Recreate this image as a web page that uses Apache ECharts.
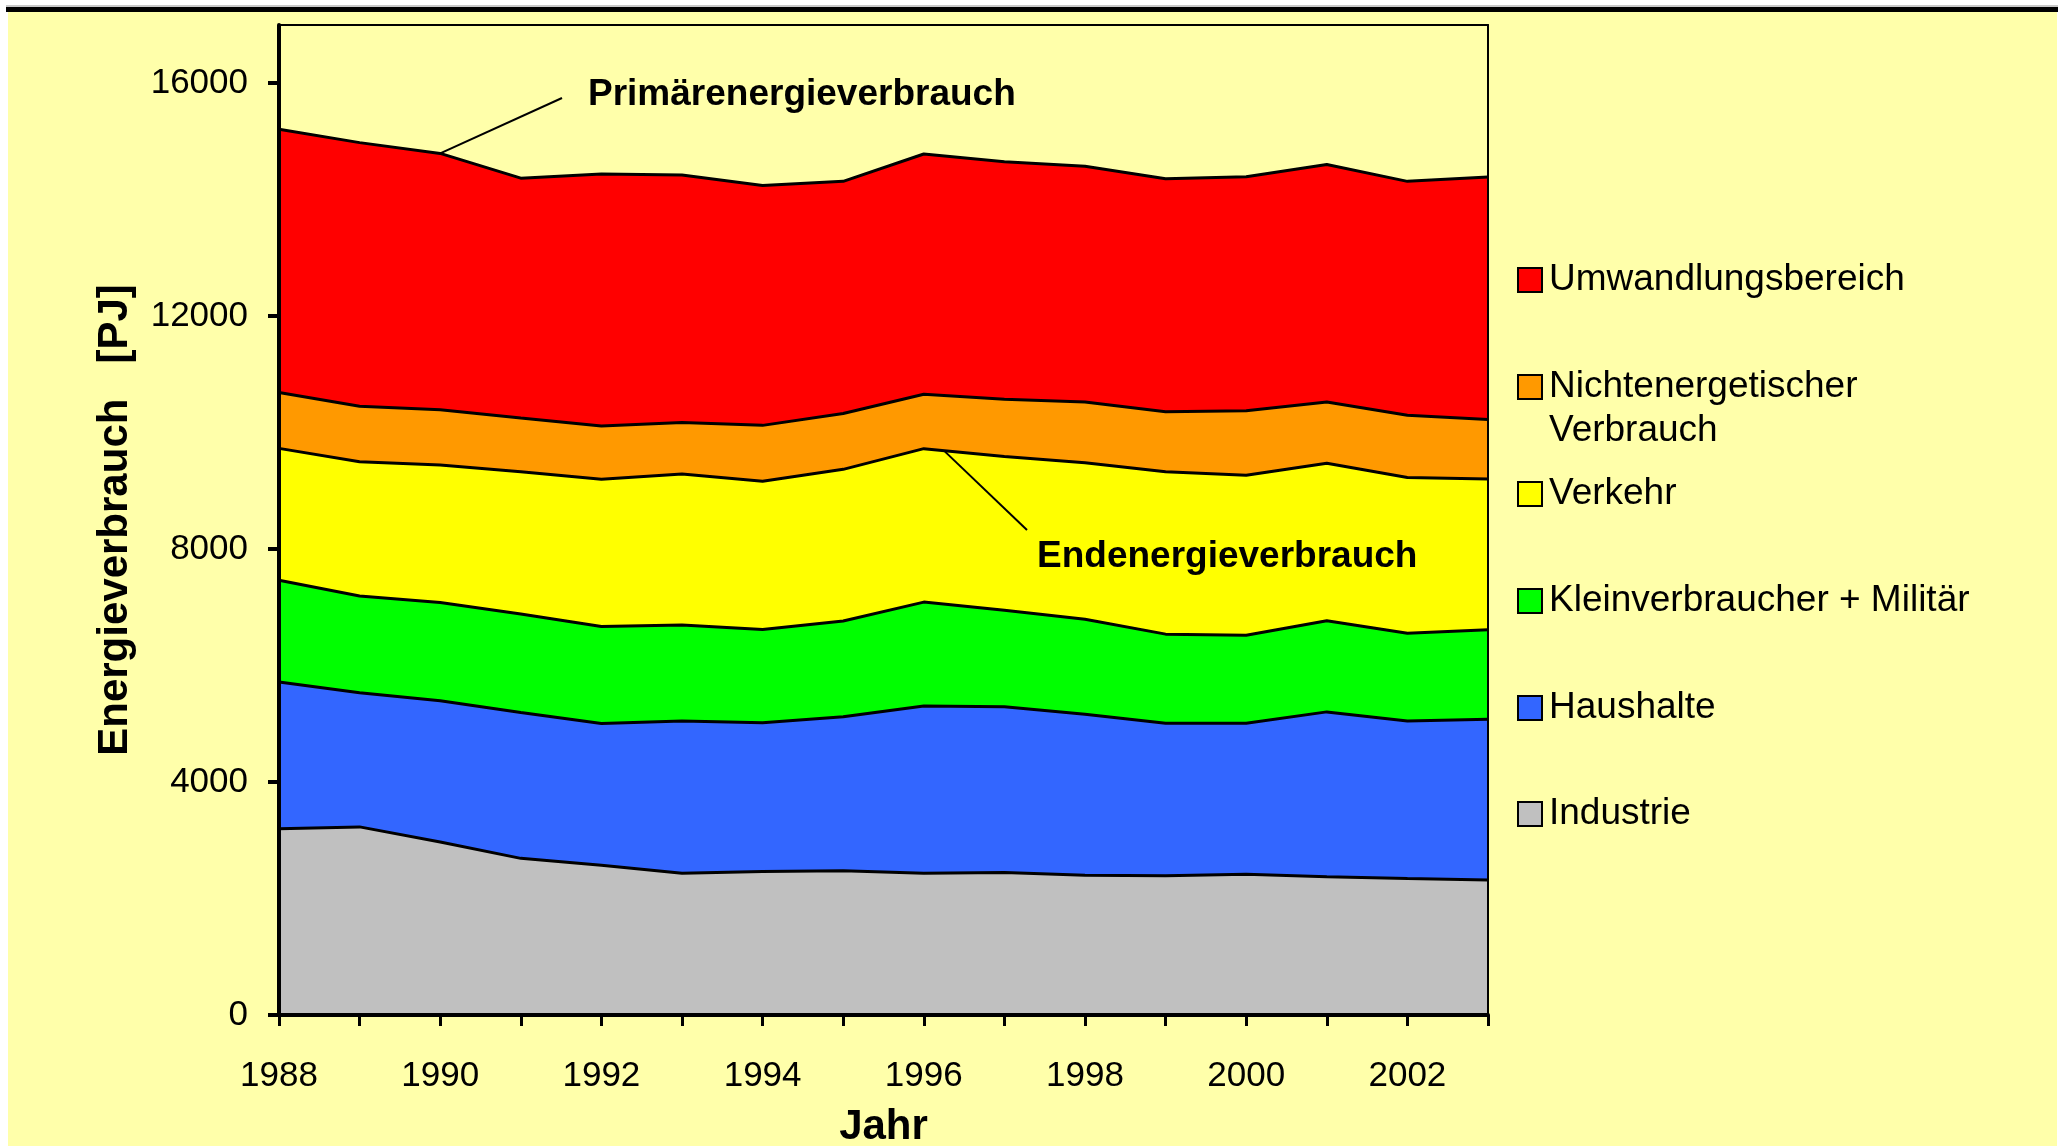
<!DOCTYPE html>
<html>
<head>
<meta charset="utf-8">
<title>Energieverbrauch</title>
<script src="https://cdn.jsdelivr.net/npm/echarts@6.0.0/dist/echarts.min.js"></script>
<style>
  html, body { margin: 0; padding: 0; background: #ffffff; }
  #main { width: 2063px; height: 1146px; }
</style>
</head>
<body>
<div id="main"></div>
<script>
// Daten (PJ)
var years = ["1988", "1989", "1990", "1991", "1992", "1993", "1994", "1995",
             "1996", "1997", "1998", "1999", "2000", "2001", "2002", "2003"];
var industrie        = [3200, 3230, 2970, 2690, 2570, 2435, 2465, 2475, 2435, 2445, 2400, 2390, 2415, 2375, 2345, 2320];
var haushalte        = [2520, 2305, 2425, 2505, 2435, 2615, 2555, 2645, 2870, 2850, 2765, 2620, 2595, 2830, 2705, 2760];
var kleinverbraucher = [1745, 1660, 1690, 1690, 1665, 1645, 1600, 1645, 1785, 1655, 1630, 1530, 1510, 1565, 1505, 1535];
var verkehr          = [2265, 2305, 2360, 2445, 2530, 2595, 2545, 2605, 2635, 2640, 2690, 2790, 2750, 2705, 2675, 2590];
var nichtenergetisch = [960, 955, 950, 920, 915, 885, 960, 960, 935, 985, 1040, 1030, 1105, 1050, 1070, 1020];
var umwandlung       = [4520, 4525, 4400, 4120, 4325, 4250, 4120, 3985, 4125, 4075, 4050, 4000, 4020, 4080, 4015, 4165];
var yTicks = [0, 4000, 8000, 12000, 16000];

var font = "Liberation Sans, Arial, sans-serif";
var bg = "#FFFFAA";

var myChart = echarts.init(document.getElementById("main"));

function areaSeries(name, data, color, z) {
  return {
    name: name,
    type: "line",
    stack: "total",
    data: data,
    z: z,
    symbol: "none",
    lineStyle: { color: "#000", width: 3 },
    itemStyle: { color: color },
    areaStyle: { color: color, opacity: 1 },
    emphasis: { disabled: true }
  };
}

// eine Legende pro Eintrag, damit die Abstände wie im Original sind
function legendItem(name, color, centerY, twoLines) {
  var l = {
    data: [name],
    left: 1517,
    top: centerY - 22,
    padding: 0,
    itemGap: 0,
    itemWidth: 24,
    itemHeight: 24,
    icon: "rect",
    itemStyle: { color: color, borderColor: "#000", borderWidth: 2 },
    textStyle: { color: "#000", fontSize: 37, fontFamily: font, lineHeight: 44, padding: [0, 0, 0, 2] }
  };
  if (twoLines) {
    // Kästchen oben, zweite Zeile hängt darunter
    l.itemHeight = 68;
    l.icon = "path://M0,0L10,0L10,10L0,10Z M0,28.33";
    l.formatter = function () { return "Nichtenergetischer\nVerbrauch"; };
  }
  return l;
}

var baseGraphic = [
  { type: "rect", silent: true, z: -10, shape: { x: 8, y: 12, width: 2049, height: 1134 }, style: { fill: bg } },
  { type: "rect", silent: true, z: -9, shape: { x: 6, y: 5, width: 2052, height: 2 }, style: { fill: "#c8c8c8" } },
  { type: "rect", silent: true, z: -9, shape: { x: 6, y: 7, width: 2052, height: 5 }, style: { fill: "#000" } },
  { type: "text", silent: true, z: 50, x: 588, y: 95,
    style: { text: "Primärenergieverbrauch", fill: "#000", fontSize: 37, fontWeight: "bold", fontFamily: font, verticalAlign: "middle" } },
  { type: "text", silent: true, z: 50, x: 1037, y: 557,
    style: { text: "Endenergieverbrauch", fill: "#000", fontSize: 37, fontWeight: "bold", fontFamily: font, verticalAlign: "middle" } }
];

var option = {
  backgroundColor: "#ffffff",
  animation: false,
  grid: { left: 279, top: 25, width: 1209, height: 990, show: false, outerBoundsMode: "none", containLabel: false },
  legend: [
    legendItem("Umwandlungsbereich", "#FF0000", 280, false),
    legendItem("Nichtenergetischer Verbrauch", "#FF9900", 387, true),
    legendItem("Verkehr", "#FFFF00", 494, false),
    legendItem("Kleinverbraucher + Militär", "#00FF00", 601, false),
    legendItem("Haushalte", "#3366FF", 708, false),
    legendItem("Industrie", "#C0C0C0", 814, false)
  ],
  xAxis: [
    {
      type: "category",
      data: years,
      boundaryGap: false,
      z: 20,
      axisLine: { lineStyle: { color: "#000", width: 4 } },
      axisTick: { show: true, interval: 0, length: 11, lineStyle: { color: "#000", width: 3 } },
      axisLabel: { interval: 1, color: "#000", fontSize: 35, fontFamily: font, margin: 44 },
      name: "Jahr",
      nameLocation: "middle",
      nameGap: 91,
      nameTextStyle: { color: "#000", fontSize: 42, fontWeight: "bold", fontFamily: font }
    },
    {
      // obere Rahmenlinie
      type: "category",
      data: years,
      boundaryGap: false,
      position: "top",
      z: 20,
      axisLine: { onZero: false, lineStyle: { color: "#000", width: 2 } },
      axisTick: { show: false },
      axisLabel: { show: false }
    }
  ],
  yAxis: [
    {
      type: "value",
      min: 0,
      max: 17000,
      z: 20,
      axisLine: { show: true, lineStyle: { color: "#000", width: 4 } },
      axisTick: { show: true, length: 11, customValues: yTicks, lineStyle: { color: "#000", width: 4 } },
      axisLabel: {
        customValues: yTicks,
        color: "#000",
        fontSize: 35,
        fontFamily: font,
        margin: 31,
        formatter: function (v) { return String(v); }
      },
      splitLine: { show: false },
      name: "Energieverbrauch   [PJ]",
      nameLocation: "middle",
      nameGap: 143,
      nameTextStyle: { color: "#000", fontSize: 42, fontWeight: "bold", fontFamily: font }
    },
    {
      // rechte Rahmenlinie
      type: "value",
      min: 0,
      max: 17000,
      position: "right",
      z: 20,
      axisLine: { show: true, onZero: false, lineStyle: { color: "#000", width: 2 } },
      axisTick: { show: false },
      axisLabel: { show: false },
      splitLine: { show: false }
    }
  ],
  graphic: baseGraphic,
  series: [
    areaSeries("Industrie", industrie, "#C0C0C0", 8),
    areaSeries("Haushalte", haushalte, "#3366FF", 7),
    areaSeries("Kleinverbraucher + Militär", kleinverbraucher, "#00FF00", 6),
    areaSeries("Verkehr", verkehr, "#FFFF00", 5),
    areaSeries("Nichtenergetischer Verbrauch", nichtenergetisch, "#FF9900", 4),
    areaSeries("Umwandlungsbereich", umwandlung, "#FF0000", 3)
  ]
};

myChart.setOption(option);

// Hinweislinien an den Summenkurven
function sumAt(i, upto) {
  var all = [industrie, haushalte, kleinverbraucher, verkehr, nichtenergetisch, umwandlung];
  var s = 0;
  for (var k = 0; k < upto; k++) s += all[k][i];
  return s;
}
var pPrim = myChart.convertToPixel({ gridIndex: 0 }, [2, sumAt(2, 6)]);
var pA = myChart.convertToPixel({ gridIndex: 0 }, [8, sumAt(8, 4)]);
var pB = myChart.convertToPixel({ gridIndex: 0 }, [9, sumAt(9, 4)]);
var t = 0.25;
var pEnd = [pA[0] + (pB[0] - pA[0]) * t, pA[1] + (pB[1] - pA[1]) * t];

myChart.setOption({
  graphic: baseGraphic.concat([
    { type: "line", silent: true, z: 50, shape: { x1: pPrim[0], y1: pPrim[1], x2: 562, y2: 98 }, style: { stroke: "#000", lineWidth: 2 } },
    { type: "line", silent: true, z: 50, shape: { x1: pEnd[0], y1: pEnd[1], x2: 1027, y2: 530 }, style: { stroke: "#000", lineWidth: 2 } }
  ])
});
</script>
</body>
</html>
